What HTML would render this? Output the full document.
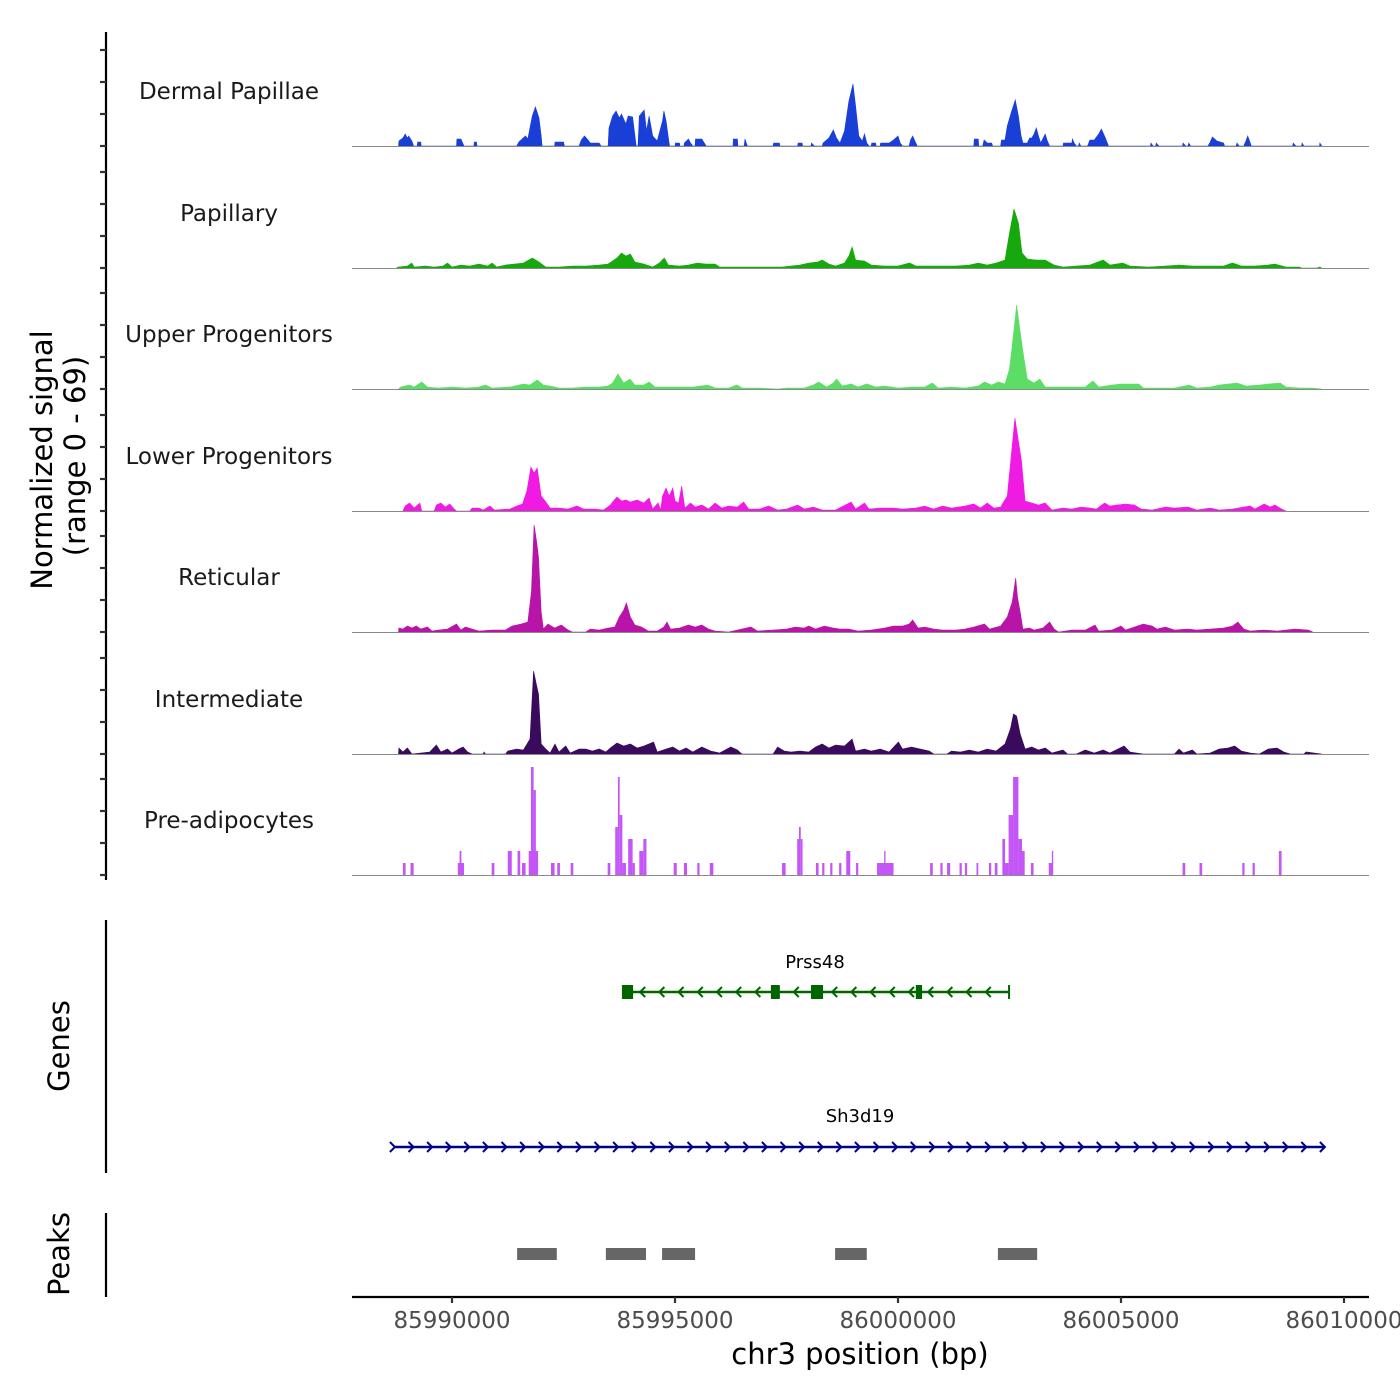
<!DOCTYPE html>
<html><head><meta charset="utf-8"><style>
html,body{margin:0;padding:0;background:#fff;}
svg{display:block;font-family:"DejaVu Sans","Liberation Sans",sans-serif;}
</style></head><body>
<svg id="chart" width="1400" height="1400" viewBox="0 0 1400 1400" xmlns="http://www.w3.org/2000/svg">
<rect width="1400" height="1400" fill="#fff"/>
<g id="tracks"></g>
<g id="leftaxes"></g>
<text transform="translate(52,460) rotate(-90)" text-anchor="middle" font-size="29" fill="#000">Normalized signal</text>
<text transform="translate(85,456) rotate(-90)" text-anchor="middle" font-size="29" fill="#000">(range 0 - 69)</text>
<text transform="translate(69,1046) rotate(-90)" text-anchor="middle" font-size="29" fill="#000">Genes</text>
<text transform="translate(69,1254) rotate(-90)" text-anchor="middle" font-size="29" fill="#000">Peaks</text>
<g id="genes"></g>
<g id="peaks"></g>
<g id="xaxis"></g>
<text x="860" y="1364" text-anchor="middle" font-size="29" fill="#000">chr3 position (bp)</text>
</svg>
<script>
const START_BP = 85990000;
const trackNames = ["Dermal Papillae","Papillary","Upper Progenitors","Lower Progenitors","Reticular","Intermediate","Pre-adipocytes"];
const trackColors = ["#1a3fd6","#17a80d","#5cde66","#f01be2","#b815a8","#3a0b5c","#c455f6"];
const xTickLabels = [85990000,85995000,86000000,86005000,86010000];
const dermalSignal = [[-1.2,0],[-1.19,5],[-1.1,8],[-1.05,12],[-1.0,8],[-0.97,10],[-0.9,5],[-0.86,0],[-0.78,0],[-0.77,4],[-0.7,4],[-0.69,0],[0.1,0],[0.11,7],[0.2,7],[0.27,0],[0.49,0],[0.5,4],[0.55,4],[0.56,0],[1.45,0],[1.5,4],[1.65,10],[1.7,7],[1.8,30],[1.87,39],[1.95,28],[2.0,10],[2.02,0],[2.3,0],[2.31,4],[2.5,4],[2.52,0],[2.85,0],[2.9,6],[2.97,10],[3.05,6],[3.1,3],[3.3,3],[3.34,0],[3.5,0],[3.52,18],[3.6,30],[3.68,35],[3.75,28],[3.8,32],[3.9,22],[3.95,30],[4.05,29],[4.13,0],[4.17,0],[4.2,30],[4.31,36],[4.36,15],[4.42,30],[4.5,10],[4.6,5],[4.72,25],[4.75,35],[4.8,25],[4.86,5],[4.88,0],[5.0,0],[5.01,3],[5.1,3],[5.11,0],[5.2,0],[5.21,3],[5.3,7],[5.35,3],[5.4,0],[5.45,0],[5.46,7],[5.6,7],[5.7,0],[6.3,0],[6.31,7],[6.4,7],[6.41,0],[6.55,0],[6.57,7],[6.62,0],[7.2,0],[7.21,3],[7.34,3],[7.35,0],[7.75,0],[7.76,3],[7.85,3],[7.86,0],[8.05,0],[8.06,3],[8.12,0],[8.3,0],[8.32,3],[8.45,8],[8.55,16],[8.62,8],[8.7,3],[8.8,15],[8.9,45],[8.99,62],[9.05,40],[9.12,10],[9.2,5],[9.25,12],[9.3,3],[9.35,0],[9.4,0],[9.41,3],[9.5,3],[9.51,0],[9.6,0],[9.61,3],[9.8,3],[9.9,6],[10.0,10],[10.05,3],[10.1,0],[10.25,0],[10.28,6],[10.33,10],[10.4,3],[10.43,0],[11.7,0],[11.71,7],[11.8,7],[11.81,0],[11.9,0],[11.93,6],[12.0,3],[12.1,3],[12.12,0],[12.3,0],[12.32,6],[12.4,6],[12.45,20],[12.55,35],[12.63,46],[12.7,30],[12.76,10],[12.8,3],[12.9,3],[12.95,8],[13.0,8],[13.05,12],[13.1,18],[13.15,10],[13.2,3],[13.3,12],[13.35,5],[13.4,0],[13.7,0],[13.71,3],[13.9,3],[13.91,7],[13.95,3],[14.0,0],[14.05,0],[14.06,3],[14.1,0],[14.25,0],[14.3,6],[14.4,6],[14.5,12],[14.56,17],[14.65,8],[14.72,0],[15.66,0],[15.67,3],[15.72,0],[15.78,0],[15.79,3],[15.85,0],[16.38,0],[16.39,3],[16.45,0],[16.5,0],[16.52,3],[16.56,0],[16.95,0],[17.0,4],[17.05,9],[17.15,5],[17.3,3],[17.32,0],[17.58,0],[17.6,3],[17.65,0],[17.75,0],[17.8,5],[17.84,10],[17.9,3],[17.92,0],[18.85,0],[18.86,3],[18.92,0],[19.05,0],[19.06,3],[19.1,0],[19.45,0],[19.46,3],[19.5,0]];
const papillarySignal = [[-1.25,0],[-1.2,1],[-1.0,2],[-0.9,5],[-0.85,1],[-0.6,2],[-0.4,1],[-0.2,2],[-0.1,5],[0.0,1],[0.2,3],[0.4,2],[0.6,4],[0.8,2],[0.9,5],[1.0,1],[1.2,3],[1.4,4],[1.6,5],[1.8,10],[1.95,6],[2.1,1],[2.4,1],[2.7,2],[3.0,2],[3.3,3],[3.5,4],[3.7,10],[3.8,15],[3.9,12],[4.0,14],[4.1,6],[4.3,4],[4.5,1],[4.65,5],[4.76,10],[4.85,3],[5.1,2],[5.3,3],[5.5,5],[5.7,4],[5.9,4],[6.0,1],[6.3,1],[6.6,1],[7.0,1],[7.4,1],[7.8,3],[8.0,5],[8.2,6],[8.3,8],[8.45,4],[8.6,2],[8.8,5],[8.9,12],[8.97,21],[9.05,8],[9.25,7],[9.4,3],[9.7,2],[10.0,2],[10.26,5],[10.4,2],[10.7,2],[11.0,2],[11.3,2],[11.6,3],[11.8,5],[12.0,3],[12.2,5],[12.4,8],[12.5,35],[12.6,59],[12.7,45],[12.78,15],[12.9,9],[13.1,8],[13.3,8],[13.5,3],[13.7,1],[14.0,2],[14.3,3],[14.6,8],[14.75,3],[15.04,5],[15.2,2],[15.6,1],[16.0,2],[16.3,3],[16.6,2],[17.0,2],[17.3,2],[17.5,5],[17.7,2],[18.0,2],[18.3,3],[18.45,4],[18.7,1],[19.0,1],[19.05,0],[19.4,0],[19.45,1],[19.5,0]];
const upperSignal = [[-1.2,0],[-1.15,2],[-0.95,4],[-0.85,2],[-0.68,7],[-0.55,2],[-0.3,1],[0.0,2],[0.3,1],[0.6,2],[0.75,4],[0.9,1],[1.3,2],[1.6,5],[1.75,4],[1.91,9],[2.05,4],[2.2,3],[2.4,1],[2.7,1],[3.0,2],[3.3,2],[3.5,3],[3.6,6],[3.72,15],[3.85,6],[3.99,10],[4.1,4],[4.3,4],[4.42,7],[4.55,2],[4.8,2],[5.1,2],[5.4,2],[5.74,4],[5.9,1],[6.2,1],[6.39,4],[6.5,1],[6.9,1],[7.3,0],[7.5,1],[7.9,1],[8.1,4],[8.22,7],[8.4,2],[8.55,6],[8.62,10],[8.75,3],[8.95,5],[9.1,2],[9.3,5],[9.5,2],[9.7,3],[10.0,1],[10.3,2],[10.6,2],[10.77,6],[10.9,1],[11.2,2],[11.5,1],[11.8,3],[11.94,7],[12.1,4],[12.25,7],[12.4,5],[12.5,20],[12.56,43],[12.66,84],[12.73,60],[12.81,35],[12.9,10],[13.05,6],[13.18,10],[13.3,2],[13.6,2],[13.9,2],[14.2,2],[14.37,8],[14.5,2],[14.8,4],[15.0,5],[15.2,5],[15.4,5],[15.5,1],[15.8,1],[16.2,1],[16.53,4],[16.7,1],[17.0,2],[17.2,4],[17.4,5],[17.6,6],[17.8,3],[18.1,4],[18.3,5],[18.57,6],[18.7,2],[19.0,1],[19.3,1],[19.5,0]];
const lowerSignal = [[-1.1,0],[-1.05,5],[-0.95,8],[-0.85,3],[-0.72,8],[-0.68,0],[-0.4,0],[-0.35,6],[-0.25,8],[-0.15,4],[-0.05,7],[0.05,2],[0.1,0],[0.4,0],[0.45,3],[0.6,3],[0.7,1],[0.85,5],[0.95,1],[1.3,2],[1.45,5],[1.58,7],[1.68,20],[1.77,44],[1.84,38],[1.91,43],[2.0,15],[2.09,10],[2.2,3],[2.4,3],[2.6,2],[2.8,5],[2.95,2],[3.2,2],[3.4,1],[3.55,6],[3.62,10],[3.7,14],[3.8,10],[3.9,11],[4.0,9],[4.15,11],[4.3,8],[4.42,13],[4.5,2],[4.62,8],[4.68,1],[4.72,15],[4.8,23],[4.87,15],[4.95,23],[5.0,10],[5.08,8],[5.15,25],[5.22,3],[5.35,8],[5.45,4],[5.6,6],[5.75,2],[5.9,8],[6.05,3],[6.2,5],[6.4,4],[6.54,9],[6.65,2],[6.9,2],[7.1,5],[7.3,1],[7.5,2],[7.75,6],[7.9,2],[8.1,4],[8.3,1],[8.6,1],[8.95,9],[9.05,2],[9.25,8],[9.35,2],[9.6,3],[9.9,3],[10.1,2],[10.4,3],[10.6,5],[10.8,2],[11.0,5],[11.2,3],[11.5,5],[11.7,7],[11.85,3],[12.0,8],[12.15,3],[12.3,4],[12.45,15],[12.55,60],[12.62,93],[12.7,70],[12.77,50],[12.85,10],[13.0,8],[13.15,6],[13.3,8],[13.45,1],[13.7,3],[13.9,2],[14.1,4],[14.3,3],[14.45,2],[14.63,8],[14.75,5],[14.9,6],[15.1,7],[15.3,6],[15.45,2],[15.7,1],[16.0,4],[16.2,3],[16.5,4],[16.7,1],[17.0,3],[17.2,1],[17.5,2],[17.9,5],[18.0,2],[18.21,7],[18.35,4],[18.45,6],[18.6,2],[18.7,0]];
const reticularSignal = [[-1.2,0],[-1.19,4],[-1.1,3],[-1.0,6],[-0.9,4],[-0.8,6],[-0.7,3],[-0.55,5],[-0.45,1],[-0.3,2],[-0.1,3],[0.1,8],[0.2,2],[0.3,5],[0.45,3],[0.6,1],[0.9,2],[1.2,2],[1.35,6],[1.55,8],[1.7,10],[1.78,40],[1.84,107],[1.9,90],[1.94,75],[2.0,20],[2.05,3],[2.15,8],[2.3,4],[2.45,7],[2.6,2],[2.7,0],[3.0,0],[3.1,3],[3.3,2],[3.5,4],[3.65,5],[3.75,15],[3.85,22],[3.91,29],[4.0,15],[4.1,7],[4.25,5],[4.4,1],[4.6,1],[4.75,5],[4.82,10],[4.9,3],[5.1,4],[5.3,7],[5.45,5],[5.6,7],[5.75,3],[5.9,1],[6.2,0],[6.5,3],[6.7,5],[6.85,1],[7.2,2],[7.5,3],[7.7,5],[7.9,4],[8.0,6],[8.15,3],[8.35,6],[8.55,4],[8.7,3],[8.9,3],[9.1,1],[9.4,2],[9.7,4],[9.9,6],[10.1,6],[10.25,8],[10.33,12],[10.45,4],[10.6,5],[10.8,3],[11.0,2],[11.3,2],[11.5,3],[11.7,5],[11.94,8],[12.05,3],[12.3,6],[12.45,15],[12.56,30],[12.64,54],[12.68,35],[12.74,20],[12.8,3],[12.95,4],[13.05,2],[13.25,4],[13.4,10],[13.5,3],[13.6,0],[13.9,2],[14.2,2],[14.42,7],[14.5,1],[14.8,2],[15.0,6],[15.1,2],[15.3,5],[15.5,8],[15.7,6],[15.8,3],[16.0,5],[16.2,2],[16.5,3],[16.7,2],[17.0,3],[17.3,4],[17.5,6],[17.62,10],[17.75,3],[17.9,1],[18.2,2],[18.5,1],[18.7,2],[18.9,3],[19.2,2],[19.3,0]];
const intermediateSignal = [[-1.2,0],[-1.19,6],[-1.1,2],[-1.0,6],[-0.9,0],[-0.7,1],[-0.5,2],[-0.35,9],[-0.25,2],[-0.1,5],[0.0,1],[0.15,5],[0.25,7],[0.35,2],[0.45,0],[0.7,0],[0.72,2],[0.75,0],[1.2,0],[1.25,3],[1.45,5],[1.6,4],[1.75,15],[1.83,83],[1.89,70],[1.94,60],[2.0,10],[2.1,5],[2.2,1],[2.31,10],[2.4,2],[2.55,8],[2.65,1],[2.85,5],[3.0,5],[3.15,3],[3.3,5],[3.45,2],[3.55,6],[3.7,11],[3.85,8],[4.0,10],[4.15,6],[4.3,8],[4.52,12],[4.6,2],[4.8,5],[4.95,7],[5.1,3],[5.25,6],[5.4,2],[5.6,7],[5.8,3],[6.0,1],[6.25,7],[6.4,4],[6.5,0],[7.2,0],[7.3,7],[7.45,3],[7.6,2],[7.8,3],[8.0,2],[8.15,7],[8.3,10],[8.45,6],[8.6,9],[8.8,8],[8.97,15],[9.05,3],[9.25,5],[9.4,3],[9.6,5],[9.8,2],[10.01,12],[10.1,5],[10.3,7],[10.5,5],[10.7,3],[10.8,0],[11.1,0],[11.2,3],[11.4,2],[11.6,4],[11.8,2],[12.0,5],[12.2,3],[12.4,10],[12.52,25],[12.59,40],[12.66,38],[12.74,20],[12.85,5],[13.0,7],[13.15,4],[13.3,6],[13.45,1],[13.7,4],[13.8,0],[14.0,0],[14.2,4],[14.4,1],[14.6,4],[14.75,1],[15.07,8],[15.2,2],[15.5,0],[16.2,0],[16.3,5],[16.4,1],[16.6,4],[16.7,0],[17.0,1],[17.2,5],[17.4,6],[17.55,8],[17.7,3],[17.9,1],[18.1,0],[18.3,5],[18.5,6],[18.65,2],[18.8,0],[19.1,0],[19.15,2],[19.5,0]];
const preadipoBlocks = [[-1.10,-1.04,12],[-0.93,-0.86,12],[0.13,0.27,12],[0.17,0.21,24],[0.89,0.95,12],[1.25,1.34,24],[1.47,1.53,24],[1.57,1.65,12],[1.72,1.93,24],[1.77,1.83,108],[1.83,1.88,85],[2.22,2.30,12],[2.36,2.42,12],[2.66,2.72,12],[3.49,3.55,12],[3.66,3.72,48],[3.72,3.76,98],[3.76,3.82,60],[3.82,3.90,12],[3.95,4.05,36],[4.05,4.10,12],[4.20,4.29,24],[4.29,4.36,36],[4.97,5.04,12],[5.20,5.27,12],[5.50,5.55,12],[5.78,5.86,12],[7.40,7.48,12],[7.74,7.78,36],[7.78,7.82,48],[7.82,7.86,36],[8.16,8.22,12],[8.30,8.35,12],[8.48,8.53,12],[8.68,8.73,12],[8.84,8.93,24],[9.06,9.11,12],[9.53,9.90,12],[9.69,9.72,24],[10.72,10.78,12],[10.95,11.0,12],[11.1,11.17,12],[11.38,11.43,12],[11.50,11.55,12],[11.76,11.80,12],[12.04,12.09,12],[12.17,12.23,12],[12.34,12.40,36],[12.40,12.48,12],[12.48,12.58,60],[12.58,12.70,98],[12.70,12.78,36],[12.78,12.84,24],[12.98,13.04,12],[13.38,13.46,12],[13.45,13.48,24],[16.38,16.44,12],[16.76,16.82,12],[17.72,17.77,12],[17.95,18.0,12],[18.54,18.60,24]];
const peakStarts = [1.46,3.45,4.71,8.59,12.24];
const peakEnds = [2.35,4.35,5.45,9.30,13.12];
const prssExonStarts = [3.81,7.15,8.05,10.40];
const prssExonEnds = [4.06,7.35,8.32,10.54];
const prssSpan = [3.86,12.49];
const sh3Span = [-1.28,19.57];

const NS='http://www.w3.org/2000/svg';
const PX_PER_KB = 44.6, X0 = 452, PLOT_L = 352, PLOT_R = 1369;
const baselines = [146,268,389,511,632,754,875];
const Y_PX_PER_UNIT = 1.0;
const xKb = kb => X0 + kb*PX_PER_KB;
const xBp = bp => X0 + (bp-START_BP)/1000*PX_PER_KB;
const yVal = (b,v) => b - v*Y_PX_PER_UNIT;
function mk(tag, attrs, parent){const e=document.createElementNS(NS,tag);for(const k in attrs)e.setAttribute(k,attrs[k]);parent.appendChild(e);return e;}

const tracks=document.getElementById('tracks');
const signals=[dermalSignal,papillarySignal,upperSignal,lowerSignal,reticularSignal,intermediateSignal];
trackNames.forEach((name,i)=>{
  const b=baselines[i];
  const g=mk('g',{},tracks);
  
  
  const t=mk('text',{x:229,y:b-47,'text-anchor':'middle','font-size':23,fill:'#1a1a1a'},g);
  t.textContent=name;
  
  
  if(i<6){
    const s=signals[i];
    let d='M'+xKb(s[0][0]).toFixed(1)+','+b;
    s.forEach(p=>{d+=' L'+xKb(p[0]).toFixed(1)+','+yVal(b,p[1]).toFixed(1);});
    d+=' L'+xKb(s[s.length-1][0]).toFixed(1)+','+b+' Z';
    const p=mk('path',{d:d,fill:trackColors[i],stroke:trackColors[i],'stroke-width':0.6},g);
    
    
  } else {
    preadipoBlocks.forEach(bl=>{
      const r=mk('rect',{x:xKb(bl[0]),y:yVal(b,bl[2]),width:Math.max(1,xKb(bl[1])-xKb(bl[0])),height:b-yVal(b,bl[2]),fill:trackColors[i]},g);
      
      
    });
  }
  const l=mk('line',{x1:PLOT_L,x2:PLOT_R,y1:b+0.5,y2:b+0.5,stroke:'#8a8a8a','stroke-width':1},g);
  
  
});

const la=document.getElementById('leftaxes');
mk('line',{x1:106,x2:106,y1:32,y2:880,stroke:'#000','stroke-width':2.2},la);
baselines.forEach(b=>{[0,32,64,96].forEach(o=>{mk('line',{x1:100,x2:106,y1:b-o,y2:b-o,stroke:'#333','stroke-width':2.2},la);});});
mk('line',{x1:106,x2:106,y1:920,y2:1173,stroke:'#000','stroke-width':2.2},la);
mk('line',{x1:106,x2:106,y1:1213,y2:1297,stroke:'#000','stroke-width':2.2},la);

const genes=document.getElementById('genes');
const pg=mk('g',{},genes);


const GY1=992, GC1='#006400';
mk('line',{x1:xKb(prssSpan[0]),x2:xKb(prssSpan[1]),y1:GY1,y2:GY1,stroke:GC1,'stroke-width':2.5},pg);
mk('line',{x1:xKb(prssSpan[1]),x2:xKb(prssSpan[1]),y1:GY1-7,y2:GY1+7,stroke:GC1,'stroke-width':2},pg);
for(let x=xKb(prssSpan[0])+16;x<xKb(prssSpan[1])-5;x+=19.2){mk('polyline',{points:`${x+5},${GY1-5} ${x},${GY1} ${x+5},${GY1+5}`,fill:'none',stroke:GC1,'stroke-width':2},pg);}
prssExonStarts.forEach((s,i)=>{mk('rect',{x:xKb(s),y:GY1-7,width:xKb(prssExonEnds[i])-xKb(s),height:14,fill:GC1},pg);});
const pt=mk('text',{x:815,y:968,'text-anchor':'middle','font-size':18,fill:'#000'},pg);pt.textContent='Prss48';
const sg=mk('g',{},genes);


const GY2=1147, GC2='#00008b';
mk('line',{x1:xKb(sh3Span[0]),x2:xKb(sh3Span[1]),y1:GY2,y2:GY2,stroke:GC2,'stroke-width':2.5},sg);
for(let x=xKb(sh3Span[0]);x<=xKb(sh3Span[1])+1;x+=18.6){mk('polyline',{points:`${x-5},${GY2-5} ${x},${GY2} ${x-5},${GY2+5}`,fill:'none',stroke:GC2,'stroke-width':2},sg);}
const st=mk('text',{x:860,y:1122,'text-anchor':'middle','font-size':18,fill:'#000'},sg);st.textContent='Sh3d19';

const peaks=document.getElementById('peaks');
peakStarts.forEach((s,i)=>{
  const r=mk('rect',{x:xKb(s),y:1248,width:xKb(peakEnds[i])-xKb(s),height:12,fill:'#666'},peaks);
  
  
});

const xa=document.getElementById('xaxis');
mk('line',{x1:PLOT_L,x2:PLOT_R,y1:1297,y2:1297,stroke:'#000','stroke-width':2.2},xa);
xTickLabels.forEach(v=>{
  const x=xBp(v);
  mk('line',{x1:x,x2:x,y1:1297,y2:1303,stroke:'#333','stroke-width':2.2},xa);
  const t=mk('text',{x:x,y:1328,'text-anchor':'middle','font-size':23,fill:'#4d4d4d'},xa);
  t.textContent=String(v);
  
  
});
</script>
</body></html>
